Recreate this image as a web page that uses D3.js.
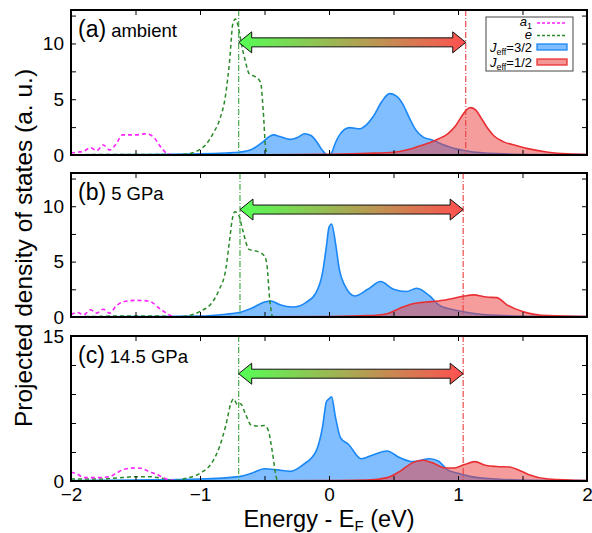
<!DOCTYPE html>
<html><head><meta charset="utf-8">
<script src="https://cdn.jsdelivr.net/npm/d3@7"></script>
<style>body{margin:0;background:#fff;}svg{display:block;font-family:"Liberation Sans",Arial,sans-serif;}</style>
</head><body><svg id="c" width="592" height="533"></svg>
<script>
// ---------- data ----------
const panelLabels = ["(a)", "(b)", "(c)"];
const panelConditions = ["ambient", "5 GPa", "14.5 GPa"];
const xTickLabels = [-2, -1, 0, 1, 2];
const yMaxes = [13, 13, 15];
const yTickStepsLabelled = [[0, 5, 10], [0, 5, 10], [0, 15]];
const yTickMinor = [[0, 2.5, 5, 7.5, 10, 12.5], [0, 2.5, 5, 7.5, 10, 12.5], [0, 3, 6, 9, 12, 15]];
const greenMarks = [-0.70, -0.69, -0.70];   // e-band centre (eV)
const redMarks = [1.06, 1.04, 1.04];        // Jeff=1/2 centre (eV)
const arrowLevels = [10.1, 9.7, 11.1];

// (a) ambient
const a_a1 = [[-2,0.2],[-1.95,0.25],[-1.9,0.35],[-1.85,0.65],[-1.8,0.4],[-1.75,0.9],[-1.7,0.45],[-1.65,1.0],[-1.6,1.8],[-1.5,1.8],[-1.42,1.9],[-1.36,1.6],[-1.3,0.65],[-1.25,0.1],[-1.2,0],[2,0]];
const a_e = [[-2,0.02],[-1.6,0.05],[-1.3,0.05],[-1.2,0.02],[-1.1,0.1],[-1.0,0.5],[-0.95,1.0],[-0.9,1.9],[-0.85,3.1],[-0.8,5.5],[-0.77,8.5],[-0.745,11.8],[-0.725,12.2],[-0.705,11.6],[-0.68,10.0],[-0.65,8.5],[-0.62,7.3],[-0.57,7.0],[-0.53,6.5],[-0.51,4.0],[-0.49,0.5],[-0.47,0]];
const a_j32 = [[-2,0.02],[-1.5,0.04],[-1.0,0.1],[-0.8,0.18],[-0.7,0.25],[-0.6,0.5],[-0.52,1.1],[-0.47,1.6],[-0.43,1.8],[-0.38,1.65],[-0.3,1.4],[-0.24,1.6],[-0.19,1.9],[-0.14,1.75],[-0.09,1.1],[-0.05,0.4],[-0.01,0.0],[0.02,0.2],[0.05,1.1],[0.085,1.85],[0.16,2.45],[0.24,2.35],[0.29,2.7],[0.34,3.4],[0.41,4.8],[0.47,5.5],[0.52,5.3],[0.57,4.6],[0.62,3.4],[0.67,2.3],[0.73,1.6],[0.8,1.35],[0.85,1.1],[0.94,0.7],[1.07,0.36],[1.3,0.12],[1.6,0.05],[2,0.03]];
const a_j12 = [[-2,0],[-1,0.01],[-0.5,0.02],[0,0.07],[0.3,0.15],[0.5,0.25],[0.6,0.45],[0.7,0.8],[0.78,1.1],[0.85,1.45],[0.92,1.9],[0.98,2.6],[1.03,3.5],[1.07,4.1],[1.1,4.25],[1.14,4.0],[1.18,3.3],[1.23,2.4],[1.28,1.7],[1.35,1.2],[1.45,0.85],[1.55,0.55],[1.7,0.25],[1.85,0.1],[2,0.05]];

// (b) 5 GPa
const b_a1 = [[-2,0.2],[-1.95,0.4],[-1.9,0.2],[-1.85,0.65],[-1.8,0.35],[-1.75,0.7],[-1.7,0.35],[-1.65,1.0],[-1.6,1.35],[-1.5,1.5],[-1.4,1.45],[-1.3,0.65],[-1.22,0.1],[-1.18,0],[2,0]];
const b_e = [[-2,0.02],[-1.8,0.05],[-1.6,0.1],[-1.4,0.1],[-1.25,0.05],[-1.2,0],[-1.1,0.1],[-1.0,0.5],[-0.9,1.4],[-0.85,2.5],[-0.8,4.3],[-0.77,7.0],[-0.75,8.8],[-0.73,9.5],[-0.7,9.2],[-0.67,7.9],[-0.62,6.1],[-0.55,5.9],[-0.5,5.5],[-0.48,4.6],[-0.46,1.6],[-0.44,0]];
const b_j32 = [[-2,0.02],[-1.5,0.04],[-1,0.08],[-0.8,0.25],[-0.7,0.4],[-0.6,0.8],[-0.5,1.35],[-0.45,1.45],[-0.38,1.1],[-0.28,0.9],[-0.18,1.3],[-0.1,2.2],[-0.05,4.0],[-0.02,6.4],[0.0,8.1],[0.02,8.4],[0.05,6.7],[0.08,4.3],[0.12,2.9],[0.2,1.9],[0.3,2.5],[0.4,3.2],[0.5,2.5],[0.6,2.3],[0.68,2.6],[0.78,1.9],[0.85,1.1],[0.95,0.7],[1.1,0.36],[1.3,0.15],[1.6,0.07],[2,0.05]];
const b_j12 = [[-2,0],[-0.5,0.02],[0,0.05],[0.3,0.12],[0.45,0.3],[0.55,0.8],[0.65,1.2],[0.75,1.35],[0.85,1.45],[0.95,1.65],[1.05,1.9],[1.12,2.0],[1.22,1.8],[1.3,1.75],[1.38,1.1],[1.5,0.5],[1.7,0.12],[2,0.05]];

// (c) 14.5 GPa
const c_a1 = [[-2,0.9],[-1.95,0.7],[-1.9,0.35],[-1.8,0.35],[-1.7,0.45],[-1.65,0.8],[-1.58,1.25],[-1.5,1.35],[-1.45,1.3],[-1.4,1.0],[-1.33,0.65],[-1.28,0.3],[-1.2,0.05],[-1.1,0],[2,0]];
const c_e = [[-2,0.2],[-1.8,0.2],[-1.6,0.35],[-1.5,0.45],[-1.4,0.45],[-1.3,0.3],[-1.2,0.05],[-1.1,0.3],[-1.0,0.8],[-0.9,2.05],[-0.85,3.5],[-0.8,5.75],[-0.76,8.05],[-0.74,8.5],[-0.71,7.9],[-0.685,8.0],[-0.65,7.0],[-0.6,5.75],[-0.55,5.7],[-0.5,5.75],[-0.47,5.2],[-0.44,3.1],[-0.41,0.45],[-0.4,0]];
const c_j32 = [[-2,0.05],[-1.5,0.1],[-1,0.2],[-0.7,0.45],[-0.6,0.8],[-0.5,1.27],[-0.4,1.15],[-0.3,1.0],[-0.2,1.7],[-0.1,3.1],[-0.05,5.6],[-0.02,8.2],[0,8.5],[0.02,8.7],[0.05,6.6],[0.09,4.45],[0.15,3.8],[0.25,2.3],[0.35,2.75],[0.45,3.1],[0.55,2.4],[0.65,2.0],[0.78,2.3],[0.85,2.05],[0.92,1.15],[1.0,0.8],[1.1,0.45],[1.3,0.2],[1.6,0.07],[2,0.05]];
const c_j12 = [[-2,0],[-0.5,0.02],[0,0.05],[0.3,0.1],[0.45,0.35],[0.55,1.0],[0.65,1.9],[0.73,2.15],[0.8,1.9],[0.9,1.35],[0.97,1.35],[1.05,1.7],[1.13,2.0],[1.22,1.6],[1.3,1.5],[1.4,1.45],[1.47,1.15],[1.55,0.65],[1.7,0.2],[2,0.05]];

const panelData = [
  {a1: a_a1, e: a_e, j32: a_j32, j12: a_j12},
  {a1: b_a1, e: b_e, j32: b_j32, j12: b_j12},
  {a1: c_a1, e: c_e, j32: c_j32, j12: c_j12}
];

// ---------- layout ----------
const svg = d3.select("#c");
const FONT = "'Liberation Sans',Arial,Helvetica,sans-serif";
const L = 71, R = 587;
const panelBox = [[10, 155], [173, 317], [336, 481]];
const x = d3.scaleLinear().domain([-2, 2]).range([L, R]);
const xTicksAll = d3.range(-2, 2.001, 0.5);

const defs = svg.append("defs");
const grad = defs.append("linearGradient").attr("id", "arrowGrad")
  .attr("gradientUnits", "objectBoundingBox").attr("x1", 0).attr("x2", 1).attr("y1", 0).attr("y2", 0);
grad.append("stop").attr("offset", "0%").attr("stop-color", "rgb(85,255,85)");
grad.append("stop").attr("offset", "100%").attr("stop-color", "rgb(255,80,80)");

const colA1 = "#ff22ff", colE = "#2a8a2a";
const blueStroke = "rgb(25,135,245)", blueFill = "rgb(128,190,255)";
const redStroke = "rgb(232,48,52)", redFill = "rgba(236,60,60,0.5)";

panelData.forEach((d, i) => {
  const [top, bot] = panelBox[i];
  const y = d3.scaleLinear().domain([0, yMaxes[i]]).range([bot, top]);
  const g = svg.append("g");
  const clipId = "clip" + i;
  defs.append("clipPath").attr("id", clipId).append("rect")
    .attr("x", L).attr("y", top).attr("width", R - L).attr("height", bot - top + 2);
  const plot = g.append("g").attr("clip-path", `url(#${clipId})`);

  const area = d3.area().x(p => x(p[0])).y0(y(0)).y1(p => y(p[1])).curve(d3.curveMonotoneX);
  const line = d3.line().x(p => x(p[0])).y(p => y(p[1])).curve(d3.curveMonotoneX);

  plot.append("path").datum(d.j32).attr("d", area).attr("fill", blueFill);
  plot.append("path").datum(d.j32).attr("d", line).attr("fill", "none").attr("stroke", blueStroke).attr("stroke-width", 1.6);
  plot.append("path").datum(d.j12).attr("d", area).attr("fill", redFill);
  plot.append("path").datum(d.j12).attr("d", line).attr("fill", "none").attr("stroke", redStroke).attr("stroke-width", 1.6);
  plot.append("path").datum(d.e).attr("d", line).attr("fill", "none").attr("stroke", colE)
    .attr("stroke-width", 1.5).attr("stroke-dasharray", "4,3");
  plot.append("path").datum(d.a1).attr("d", line).attr("fill", "none").attr("stroke", colA1)
    .attr("stroke-width", 1.6).attr("stroke-dasharray", "4,3");

  // vertical markers
  plot.append("line").attr("x1", x(greenMarks[i])).attr("x2", x(greenMarks[i])).attr("y1", top).attr("y2", bot)
    .attr("stroke", "rgb(60,160,60)").attr("stroke-width", 1.1).attr("stroke-dasharray", "6,2,1,2");
  plot.append("line").attr("x1", x(redMarks[i])).attr("x2", x(redMarks[i])).attr("y1", top).attr("y2", bot)
    .attr("stroke", "rgb(235,60,60)").attr("stroke-width", 1.1).attr("stroke-dasharray", "6,2,1,2");

  // double arrow
  const x0 = x(greenMarks[i]), x1 = x(redMarks[i]), ya = y(arrowLevels[i]);
  const hl = 13, hh = 10.5, sh = 4.5;
  const pts = [[x0, ya], [x0 + hl, ya - hh], [x0 + hl, ya - sh], [x1 - hl, ya - sh], [x1 - hl, ya - hh], [x1, ya],
               [x1 - hl, ya + hh], [x1 - hl, ya + sh], [x0 + hl, ya + sh], [x0 + hl, ya + hh]];
  g.append("path").attr("d", "M" + pts.map(p => p.join(",")).join("L") + "Z")
    .attr("fill", "url(#arrowGrad)").attr("stroke", "#111").attr("stroke-width", 1);

  // axes (ticks inward)
  const tsz = 5;
  const bottomAx = d3.axisBottom(x).tickValues(xTicksAll).tickSize(-tsz)
    .tickFormat(v => (i === 2 && xTickLabels.includes(v)) ? d3.format("d")(v) : "");
  const topAx = d3.axisTop(x).tickValues(xTicksAll).tickSize(-tsz).tickFormat("");
  const leftAx = d3.axisLeft(y).tickValues(yTickMinor[i]).tickSize(-tsz)
    .tickFormat(v => yTickStepsLabelled[i].includes(v) ? d3.format("d")(v) : "");
  const rightAx = d3.axisRight(y).tickValues(yTickMinor[i]).tickSize(-tsz).tickFormat("");

  const axG = [
    g.append("g").attr("transform", `translate(0,${bot})`).call(bottomAx),
    g.append("g").attr("transform", `translate(0,${top})`).call(topAx),
    g.append("g").attr("transform", `translate(${L},0)`).call(leftAx),
    g.append("g").attr("transform", `translate(${R},0)`).call(rightAx)
  ];
  axG.forEach(a => {
    a.attr("font-family", FONT);
    a.select(".domain").remove();
    a.selectAll(".tick line").attr("stroke", "#000").attr("stroke-width", 1);
    a.selectAll("text").attr("font-size", 19).attr("fill", "#000");
  });
  axG[2].selectAll("text").attr("x", -7);
  axG[0].selectAll("text").attr("y", 7);

  g.append("rect").attr("x", L).attr("y", top).attr("width", R - L).attr("height", bot - top)
    .attr("fill", "none").attr("stroke", "#000").attr("stroke-width", 2);

  const lab = g.append("text").attr("x", 78).attr("y", top + 27).attr("fill", "#000").attr("font-family", FONT);
  lab.append("tspan").attr("font-size", 23).text(panelLabels[i]);
  lab.append("tspan").attr("font-size", 18.5).attr("dx", 5).text(panelConditions[i]);
});

// legend
const lg = svg.append("g").attr("font-family", FONT);
lg.append("rect").attr("x", 486).attr("y", 17).attr("width", 87).attr("height", 54)
  .attr("fill", "#fff").attr("stroke", "#444").attr("stroke-width", 1);
const legendItems = [
  {main: "a", sub: "1", rest: "", kind: "line", color: colA1, yb: 26},
  {main: "e", sub: "", rest: "", kind: "line", color: colE, yb: 38.5},
  {main: "J", sub: "eff", rest: "=3/2", kind: "rect", color: blueFill, stroke: blueStroke, yb: 52},
  {main: "J", sub: "eff", rest: "=1/2", kind: "rect", color: "rgb(245,150,150)", stroke: redStroke, yb: 67}
];
legendItems.forEach(it => {
  const t = lg.append("text").attr("x", 532).attr("y", it.yb).attr("text-anchor", "end")
    .attr("font-size", 13).attr("fill", "#000");
  t.append("tspan").attr("font-style", "italic").text(it.main);
  if (it.sub) t.append("tspan").attr("font-size", 9).attr("dy", 2.5).text(it.sub);
  if (it.rest) t.append("tspan").attr("dy", -2.5).text(it.rest);
  if (it.kind === "line") {
    lg.append("line").attr("x1", 537).attr("x2", 567).attr("y1", it.yb - 3).attr("y2", it.yb - 3)
      .attr("stroke", it.color).attr("stroke-width", 1.5).attr("stroke-dasharray", "3,2");
  } else {
    lg.append("rect").attr("x", 537).attr("y", it.yb - 8).attr("width", 30).attr("height", 6)
      .attr("fill", it.color).attr("stroke", it.stroke).attr("stroke-width", 1.3);
  }
});

// axis titles
const xt = svg.append("text").attr("x", 329).attr("y", 527).attr("text-anchor", "middle")
  .attr("font-size", 23.5).attr("fill", "#000").attr("font-family", FONT);
xt.append("tspan").text("Energy - E");
xt.append("tspan").attr("font-size", 15).attr("dy", 4).text("F");
xt.append("tspan").attr("dy", -4).text(" (eV)");

svg.append("text").attr("transform", "translate(32,248) rotate(-90)").attr("text-anchor", "middle")
  .attr("font-size", 24.5).attr("fill", "#000").attr("font-family", FONT)
  .text("Projected density of states (a. u.)");
</script></body></html>
